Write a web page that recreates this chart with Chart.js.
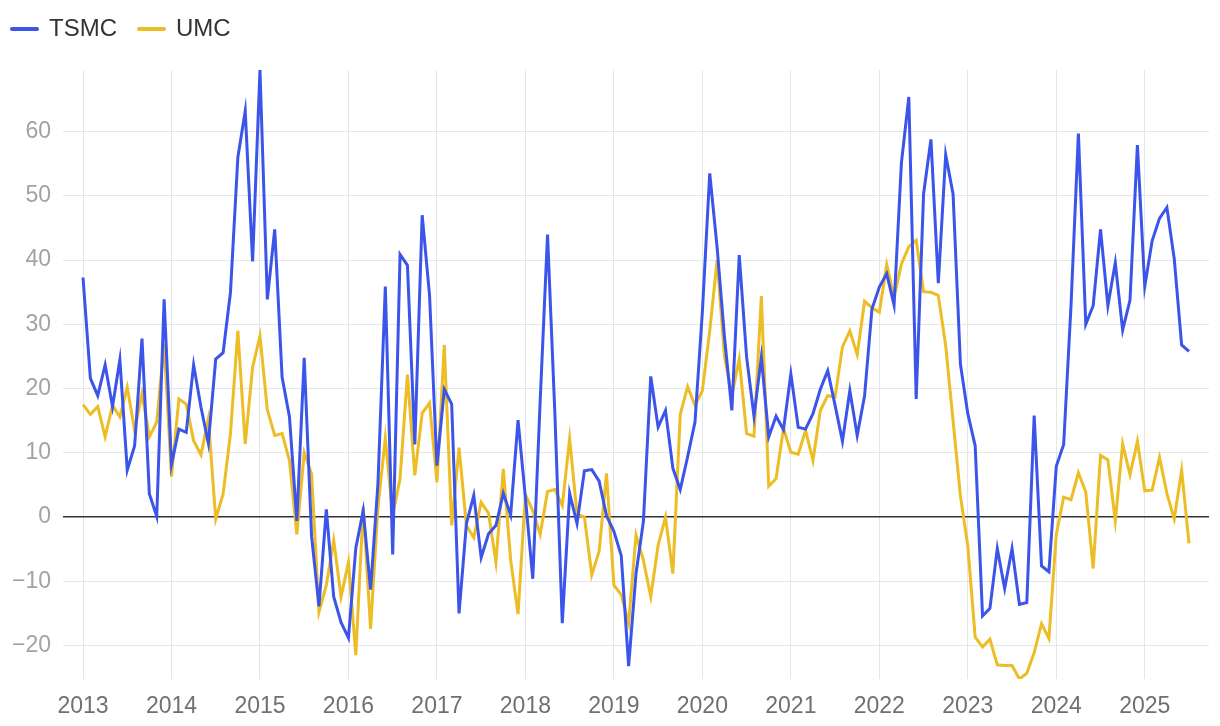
<!DOCTYPE html>
<html>
<head>
<meta charset="utf-8">
<script src="https://cdn.jsdelivr.net/npm/chart.js@4/dist/chart.umd.min.js"></script>
<style>
  html, body { margin: 0; padding: 0; background: #ffffff; }
  #wrap { position: relative; width: 1220px; height: 726px; }
</style>
</head>
<body>
<div id="wrap"><canvas id="c"></canvas></div>
<script>
// Monthly series, starting January 2013 and ending July 2025
const startYear = 2013;
const seriesNames = ["TSMC", "UMC"];
const yearTicks = [2013, 2014, 2015, 2016, 2017, 2018, 2019, 2020, 2021, 2022, 2023, 2024, 2025];

const tsmc = [
  37.3, 21.6, 18.9, 23.7, 17.2, 24.5, 7.3, 11.1, 27.8, 3.6, 0.1, 33.9,
  8.2, 13.7, 13.2, 23.7, 17.1, 11.5, 24.6, 25.6, 35.0, 56.0, 63.2, 39.8,
  69.6, 33.9, 44.8, 21.8, 15.6, -0.6, 24.8, -3.0, -13.9, 1.2, -12.4, -16.4,
  -18.8, -4.8, 1.0, -11.3, 5.2, 35.9, -5.8, 40.9, 39.2, 11.3, 47.0, 34.5,
  8.0, 19.9, 17.6, -15.0, -1.0, 3.4, -6.3, -2.6, -1.3, 3.7, 0.3, 15.1,
  3.0, -9.6, 18.0, 44.0, 16.0, -16.5, 3.7, -1.0, 7.2, 7.4, 5.6, 0.2,
  -2.2, -6.0, -23.2, -8.8, -0.7, 21.9, 14.0, 16.6, 7.6, 4.3, 9.4, 14.8,
  32.0, 53.5, 42.0, 28.0, 16.6, 40.8, 24.9, 15.7, 24.9, 12.5, 15.7, 13.6,
  22.3, 14.0, 13.7, 16.1, 19.9, 22.8, 17.4, 11.8, 19.7, 12.7, 18.9, 32.4,
  35.8, 37.9, 33.0, 55.2, 65.4, 18.4, 50.3, 58.8, 36.4, 56.4, 50.3, 23.8,
  16.1, 11.1, -15.4, -14.2, -4.9, -11.1, -4.9, -13.6, -13.3, 15.8, -7.6, -8.5,
  7.9, 11.3, 33.0, 59.7, 30.0, 32.9, 44.8, 32.9, 39.6, 29.1, 33.8, 57.9,
  35.9, 43.0, 46.5, 48.2, 40.2, 26.8, 25.8
];

const umc = [
  17.5, 16.0, 17.2, 12.5, 17.4, 15.6, 20.2, 13.5, 19.2, 12.5, 14.8, 27.0,
  6.3, 18.4, 17.6, 11.9, 9.7, 15.3, -0.3, 3.6, 13.0, 29.0, 11.4, 23.3,
  28.2, 16.7, 12.7, 13.0, 8.8, -2.7, 10.0, 6.7, -14.8, -10.6, -3.6, -12.4,
  -7.0, -21.5, 1.6, -17.4, 1.5, 12.3, 0.3, 6.0, 22.2, 6.5, 16.2, 17.8,
  5.4, 26.8, -1.3, 10.8, -1.3, -3.2, 2.3, 0.6, -7.0, 7.5, -6.7, -15.1,
  3.5, 1.0, -2.7, 4.0, 4.3, 1.8, 12.2, 0.5, 0.0, -9.0, -5.3, 6.8,
  -10.6, -12.1, -16.5, -2.8, -6.7, -12.4, -4.4, 0.0, -8.8, 16.0, 20.3, 17.4,
  19.7, 29.0, 40.0, 25.0, 19.0, 24.6, 13.0, 12.6, 34.4, 4.8, 6.0, 13.8,
  10.1, 9.8, 13.5, 8.8, 16.6, 18.9, 18.7, 26.5, 29.0, 25.3, 33.6, 32.6,
  31.9, 39.3, 34.2, 39.4, 42.1, 43.1, 35.1, 35.0, 34.5, 26.7, 15.0, 3.3,
  -4.5, -18.7, -20.2, -19.0, -23.0, -23.1, -23.1, -25.2, -24.3, -21.1, -16.6, -18.9,
  -2.7, 3.1, 2.7, 6.9, 3.9, -8.0, 9.6, 8.9, -0.6, 11.4, 6.6, 11.8,
  4.1, 4.2, 9.3, 3.7, -0.3, 7.3, -4.1
];

const toPoints = arr => arr.map((v, i) => ({ x: startYear + i / 12, y: v }));
const allValues = tsmc.concat(umc);
const yMin = Math.min(...allValues);
const yMax = Math.max(...allValues);
const lastX = startYear + (tsmc.length - 1) / 12;
const xPad = 0.226; // years of empty space at each end of the x axis

const FONT = "'Liberation Sans', Helvetica, Arial, sans-serif";

// nudge the legend block up and to the left after layout
const legendNudge = {
  id: 'legendNudge',
  afterLayout(chart) {
    const l = chart.legend;
    if (!l) return;
    l.left -= 10; l.right -= 10;
    l.top -= 19; l.bottom -= 19;
  }
};

new Chart(document.getElementById('c'), {
  type: 'line',
  plugins: [legendNudge],
  data: {
    datasets: [
      { label: seriesNames[0], data: toPoints(tsmc), borderColor: '#3b54ea', backgroundColor: '#3b54ea',
        borderWidth: 3, pointRadius: 0, tension: 0 },
      { label: seriesNames[1], data: toPoints(umc), borderColor: '#ecbd24', backgroundColor: '#ecbd24',
        borderWidth: 3, pointRadius: 0, tension: 0 }
    ]
  },
  options: {
    responsive: true,
    maintainAspectRatio: false,
    animation: false,
    layout: { padding: { left: 0, right: 11, top: 14, bottom: -8 } },
    plugins: {
      tooltip: { enabled: false },
      legend: {
        position: 'top',
        align: 'start',
        labels: {
          font: { family: FONT, size: 24 },
          color: '#333333',
          usePointStyle: true,
          pointStyle: 'line',
          pointStyleWidth: 25,
          padding: 22,
          generateLabels(chart) {
            const items = Chart.defaults.plugins.legend.labels.generateLabels(chart);
            items.forEach(it => { it.lineWidth = 4; it.lineCap = 'round'; });
            return items;
          }
        }
      }
    },
    scales: {
      x: {
        type: 'linear',
        min: startYear - xPad,
        max: lastX + xPad,
        afterBuildTicks(axis) { axis.ticks = yearTicks.map(v => ({ value: v })); },
        ticks: {
          font: { family: FONT, size: 23, lineHeight: 1.0 },
          color: '#707070',
          padding: 16,
          maxRotation: 0,
          autoSkip: false,
          callback: v => String(v)
        },
        grid: { color: '#e6e6e6', lineWidth: 1, drawTicks: false },
        border: { display: false }
      },
      y: {
        min: yMin,
        max: yMax,
        ticks: {
          stepSize: 10,
          includeBounds: false,
          font: { family: FONT, size: 23 },
          color: '#a3a3a3',
          padding: 12,
          callback: v => (v < 0 ? '\u2212' + Math.abs(v) : String(v))
        },
        grid: {
          drawTicks: false,
          lineWidth: ctx => (ctx.tick && ctx.tick.value === 0 ? 1.5 : 1),
          color: ctx => (ctx.tick && ctx.tick.value === 0 ? '#333333' : '#e6e6e6')
        },
        border: { display: false }
      }
    }
  }
});
</script>
</body>
</html>
